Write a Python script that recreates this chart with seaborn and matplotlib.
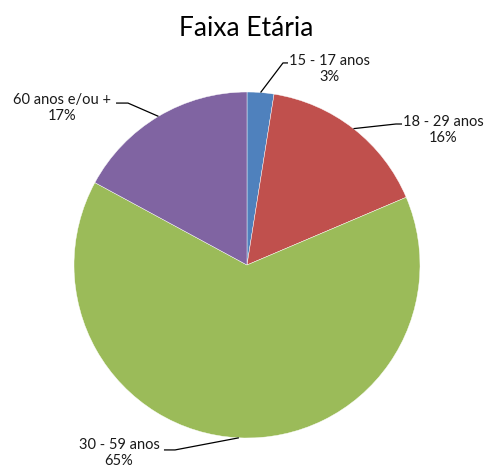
import numpy as np
import matplotlib
matplotlib.use("Agg")
import matplotlib.pyplot as plt
import seaborn as sns

# dados (fatias)
grupos = ['15 - 17 anos', '18 - 29 anos', '30 - 59 anos', '60 anos e/ou +']
fatias = [2.5, 16.1, 64.3, 17.1]
rotulos_pct = ['3%', '16%', '65%', '17%']
cores = ['#4F81BD', '#C0504D', '#9BBB59', '#8064A2']

sns.set_theme(style='white')
plt.rcParams['font.family'] = ['Lato', 'DejaVu Sans']

fig = plt.figure(figsize=(4.88, 4.68), dpi=100)
ax = fig.add_axes([74 / 488, 30 / 468, 346 / 488, 346 / 468])

wedges, _ = ax.pie(fatias, colors=sns.color_palette(cores), startangle=90,
                   counterclock=False, radius=1,
                   wedgeprops=dict(edgecolor='white', linewidth=0.3))
ax.set_xlim(-1, 1)
ax.set_ylim(-1, 1)
ax.set_aspect('equal')
ax.axis('off')

# posicoes dos rotulos (texto, cotovelo, fim da linha)
pos_texto = [(0.474, 1.133), (1.133, 0.780), (-0.740, -1.087), (-1.069, 0.908)]
cotovelo = [(0.208, 1.168), (0.861, 0.815), (-0.416, -1.069), (-0.688, 0.936)]
fim_linha = [(0.237, 1.168), (0.896, 0.815), (-0.480, -1.069), (-0.757, 0.936)]

for w, g, p, t, c, f in zip(wedges, grupos, rotulos_pct, pos_texto, cotovelo, fim_linha):
    ang = np.deg2rad((w.theta1 + w.theta2) / 2)
    x0, y0 = np.cos(ang), np.sin(ang)
    ax.plot([x0, c[0], f[0]], [y0, c[1], f[1]], color='black', lw=0.9,
            clip_on=False, solid_capstyle='butt')
    ax.text(t[0], t[1], g + '\n' + p, ha='center', va='center', fontsize=10.5,
            color='#1a1a1a', linespacing=1.25, clip_on=False)

fig.text(246 / 488, 1 - 28 / 468, 'Faixa Etária', ha='center', va='center',
         fontsize=19, color='black')

fig.savefig('out.png', dpi=100)
